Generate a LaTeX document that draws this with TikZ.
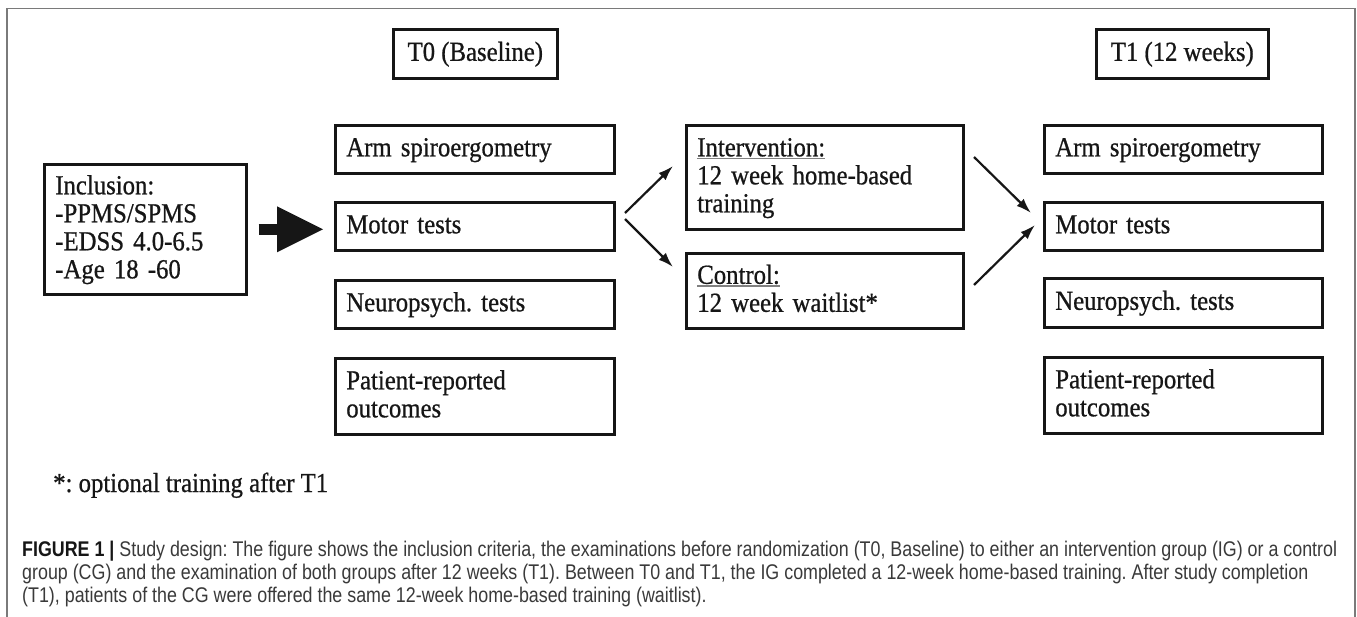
\documentclass[tikz,border=0pt]{standalone}
\usepackage{fontspec}
\setmainfont[FakeBold=0.7,FakeStretch=0.9]{Liberation Serif}
\newfontfamily\capfont[FakeStretch=0.84]{Liberation Sans}
\usetikzlibrary{arrows.meta}
\definecolor{framegray}{HTML}{7A7A7A}
\definecolor{captext}{HTML}{3A3A3A}
\definecolor{ink}{HTML}{161616}
\newcommand\mystrut{\rule[-6.5pt]{0pt}{27pt}}
\newcommand\grayul[1]{\setbox0\hbox{#1}\rlap{\textcolor{gray}{\rule[-3pt]{\wd0}{1.3pt}}}\box0}
\newlength\capwd
\frenchspacing
\begin{document}
\settowidth\capwd{\capfont\fontsize{17pt}{20pt}\selectfont\textbf{FIGURE 1 |} Study design: The figure shows the inclusion criteria, the examinations before randomization (T0, Baseline) to either an intervention group (IG) or a control}%
\pgfmathsetmacro\capsz{1315/\capwd*17}%
\begin{tikzpicture}[x=1pt,y=-1pt,
  diafont/.style={font=\fontsize{27.5pt}{28pt}\selectfont, text=ink},
  box/.style={diafont, draw=ink, line width=2.6pt, rectangle, inner xsep=11pt, inner ysep=0pt, align=left, anchor=north west},
  tbox/.style={diafont, draw=ink, line width=2.6pt, rectangle, inner sep=0pt, anchor=north west},
  link/.style={draw=ink, line width=2.2pt, -{Latex[length=15pt,width=10pt]}},
  fatarrow/.style={draw=ink, line width=11.5pt, -{Triangle[length=46pt,width=46pt,line width=0pt]}},
  outerframe/.style={draw=framegray, line width=1.8pt},
  captxt/.style={anchor=base west, inner sep=0pt, text=captext, font=\capfont\fontsize{\capsz pt}{23pt}\selectfont}
]
\useasboundingbox (0,0) rectangle (1357,617);
\fill[white] (0,0) rectangle (1357,617);
\draw[outerframe] (7,617) -- (7,8.5) -- (1355,8.5) -- (1355,617);

% header boxes
\node[tbox, minimum width=164pt, minimum height=49pt] (t0) at (392,28) {\mystrut T0 (Baseline)};
\node[tbox, minimum width=172pt, minimum height=49pt] (t1) at (1095,28) {\mystrut T1 (12 weeks)};

% inclusion
\node[box, text width=180pt, minimum height=130pt] (incl) at (43,163) {\mystrut Inclusion:\\-PPMS/SPMS\\-EDSS 4.0-6.5\\-Age 18 -60\mystrut};

% baseline column
\node[box, text width=257pt, minimum height=48pt] (arm0) at (334,124) {\mystrut Arm spiroergometry};
\node[box, text width=257pt, minimum height=48pt] (motor0) at (334,201) {\mystrut Motor tests};
\node[box, text width=257pt, minimum height=48pt] (neuro0) at (334,279) {\mystrut Neuropsych. tests};
\node[box, text width=257pt, minimum height=76pt] (pat0) at (334,357) {\mystrut Patient-reported\\outcomes\mystrut};

% groups
\node[box, text width=255pt, minimum height=104pt] (interv) at (685,124) {\mystrut\grayul{Intervention:}\\12 week home-based\\training\mystrut};
\node[box, text width=255pt, minimum height=75pt] (ctrl) at (685,252) {\mystrut\grayul{Control:}\\12 week waitlist*\mystrut};

% follow-up column
\node[box, text width=256pt, minimum height=48pt] (arm1) at (1043,124) {\mystrut Arm spiroergometry};
\node[box, text width=256pt, minimum height=48pt] (motor1) at (1043,201) {\mystrut Motor tests};
\node[box, text width=256pt, minimum height=49pt] (neuro1) at (1043,277) {\mystrut Neuropsych. tests};
\node[box, text width=256pt, minimum height=76pt] (pat1) at (1043,356) {\mystrut Patient-reported\\outcomes\mystrut};

% fat arrow
\coordinate (fatend) at (incl.east -| motor0.west);
\draw[fatarrow] ([xshift=11pt]incl.east) -- ([xshift=-11pt]fatend);

% thin arrows
\coordinate (a1s) at (625,213); \coordinate (a1e) at (673,166);
\coordinate (a2s) at (625,219); \coordinate (a2e) at (673,267);
\coordinate (a3s) at (974,157); \coordinate (a3e) at (1031,213);
\coordinate (a4s) at (974,285); \coordinate (a4e) at (1035,225);
\draw[link] (a1s) -- (a1e);
\draw[link] (a2s) -- (a2e);
\draw[link] (a3s) -- (a3e);
\draw[link] (a4s) -- (a4e);

% footnote
\node[diafont, anchor=base west, inner sep=0pt] (note) at (53,492) {*: optional training after T1};

% caption
\node[captxt] (cap1) at (22,556) {\textbf{\color{ink}FIGURE 1 |} Study design: The figure shows the inclusion criteria, the examinations before randomization (T0, Baseline) to either an intervention group (IG) or a control};
\node[captxt] (cap2) at (22,579) {group (CG) and the examination of both groups after 12 weeks (T1). Between T0 and T1, the IG completed a 12-week home-based training. After study completion};
\node[captxt] (cap3) at (22,602) {(T1), patients of the CG were offered the same 12-week home-based training (waitlist).};
\end{tikzpicture}
\end{document}
